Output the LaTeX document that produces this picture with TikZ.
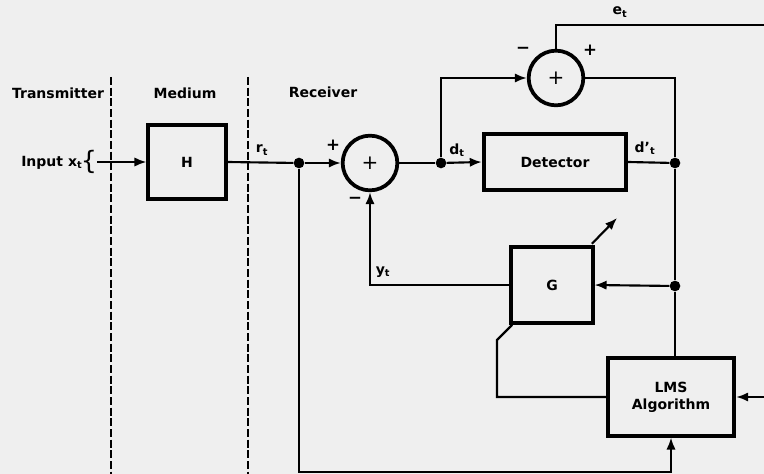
\documentclass[tikz,border=0pt]{standalone}
\usepackage{fontspec}
\setmainfont{DejaVu Sans}
\usetikzlibrary{arrows.meta,positioning,calc}
\definecolor{pagegray}{RGB}{239,239,239}

\begin{document}
\begin{tikzpicture}[
  x=0.75pt, y=-0.75pt,
  every node/.style={font=\fontsize{10.5}{12.5}\selectfont\bfseries},
  box/.style={draw, line width=2.8pt, inner sep=0pt, align=center},
  sum/.style={draw, circle, line width=2.8pt, minimum size=41pt, inner sep=0pt, font=\fontsize{15}{15}\selectfont},
  dot/.style={circle, fill, inner sep=0pt, minimum size=8pt},
  wire/.style={line width=1.6pt},
  arr/.style={wire, -{Latex[length=9pt,width=7pt]}},
  sep/.style={line width=1.5pt, dash pattern=on 6pt off 2pt},
  lbl/.style={inner sep=1pt},
  sgn/.style={inner sep=1pt, font=\fontsize{12.5}{12.5}\selectfont\bfseries}
]
\fill[pagegray] (0,0) rectangle (764,474);
\useasboundingbox (0,0) rectangle (764,474);

% region borders
\draw[sep] (111,77) -- (111,474);
\draw[sep] (248,77) -- (248,474);
\node[lbl] (tx) at (58,93) {Transmitter};
\node[lbl] (md) at (185,93) {Medium};
\node[lbl] (rx) at (323,92) {Receiver};

% blocks
\node[box, minimum width=58pt, minimum height=56pt] (H) at (187,162) {H};
\node[sum] (sumA) at (370,163) {+};
\node[box, minimum width=107pt, minimum height=42pt] (det) at (555,162) {Detector};
\node[sum] (sumB) at (556,78) {+};
\node[box, minimum width=61pt, minimum height=57pt] (G) at (552,285) {G};
\node[box, minimum width=95pt, minimum height=58pt] (lms) at (671,397) {LMS\\Algorithm};

% junctions
\node[dot] (jr) at (299,163) {};
\node[dot] (jd) at (441,163) {};
\node[dot] (jo) at (675,163) {};
\node[dot] (jg) at (675,286) {};
\coordinate (eout) at (764,25);
\coordinate (lin) at (764,397);
\coordinate (bl) at (0,472);
\coordinate (gk) at (497,340);
\coordinate (gadj) at (617,218);

% input
\node[lbl, anchor=east] (inp) at (84,163) {Input x\textsubscript{t}};
\node[inner sep=0pt] (brace) at (89,162) {\fontsize{19}{19}\selectfont\mdseries\{};

% labels
\node[lbl] (rt) at (262,150) {r\textsubscript{t}};
\node[lbl] (dt) at (457,150) {d\textsubscript{t}};
\node[lbl] (dpt) at (645,148) {d\textquoteright\textsubscript{t}};
\node[lbl] (et) at (620,12) {e\textsubscript{t}};
\node[lbl] (yt) at (383,272) {y\textsubscript{t}};
\node[sgn] (pA) at (333,145) {+};
\node[sgn] (mA) at (355,200) {−};
\node[sgn] (mB) at (523,50) {−};
\node[sgn] (pB) at (590,50) {+};

% connections
\draw[arr] (brace.east) -- (H.west);
\draw[wire] (H.east) -- (jr);
\draw[arr] (jr) -- (sumA.west);
\draw[wire] (sumA.east) -- (jd);
\draw[arr] (jd) -- (det.west);
\draw[wire] (det.east) -- (jo);
\draw[arr] (jd) |- (sumB.west);
\draw[wire] (sumB.east) -| (jo);
\draw[wire] (sumB.north) |- (eout);
\draw[wire] (jo) -- (jg);
\draw[wire] (jg) -- (jg |- lms.north);
\draw[arr] (jg) -- (G.east);
\draw[arr] (G.west) -| (sumA.south);
\draw[arr] ([xshift=-2pt,yshift=1pt]G.north east) -- (gadj);
\draw[wire] ([xshift=2pt]G.south west) -- (gk) |- (lms.west);
\draw[arr] (lin) -- (lms.east);
\draw[arr] (jr) -- (jr |- bl) -| (lms.south);
\end{tikzpicture}
\end{document}
